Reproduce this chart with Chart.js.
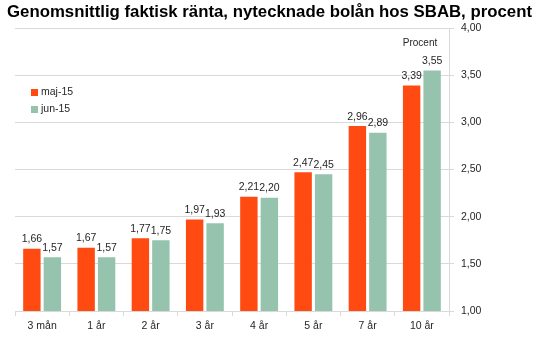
<!DOCTYPE html>
<html>
<head>
<meta charset="utf-8">
<script src="https://cdn.jsdelivr.net/npm/chart.js@4/dist/chart.umd.min.js"></script>
<style>
  html, body { margin: 0; padding: 0; background: #ffffff; }
  #wrap { position: relative; width: 543px; height: 355px; }
</style>
</head>
<body>
<div id="wrap"><canvas id="c" width="543" height="355"></canvas></div>
<script>
const chartTitle = "Genomsnittlig faktisk ränta, nytecknade bolån hos SBAB, procent";
const unitLabel = "Procent";
const categories = ["3 mån", "1 år", "2 år", "3 år", "4 år", "5 år", "7 år", "10 år"];
const seriesNames = ["maj-15", "jun-15"];
const maj15 = [1.66, 1.67, 1.77, 1.97, 2.21, 2.47, 2.96, 3.39];
const jun15 = [1.57, 1.57, 1.75, 1.93, 2.20, 2.45, 2.89, 3.55];
const yMin = 1.0, yMax = 4.0, yStep = 0.5;

const ORANGE = "#ff4a11";
const GREEN = "#95c3ae";
const GRID = "#d9d9d9";
const TEXT = "#262626";
const FONT = "'Liberation Sans', Arial, sans-serif";

const fmt = v => v.toFixed(2).replace(".", ",");

const extrasPlugin = {
  id: "extras",
  afterDatasetsDraw(chart) {
    const ctx = chart.ctx;
    ctx.save();
    // data labels
    ctx.font = "10.5px " + FONT;
    ctx.fillStyle = TEXT;
    ctx.textAlign = "center";
    ctx.textBaseline = "alphabetic";
    chart.data.datasets.forEach((ds, i) => {
      const meta = chart.getDatasetMeta(i);
      meta.data.forEach((bar, j) => {
        ctx.fillText(fmt(ds.data[j]), bar.x, bar.y - 6.5);
      });
    });
    // title
    ctx.font = "bold 16.8px " + FONT;
    ctx.fillStyle = "#000000";
    ctx.textAlign = "left";
    ctx.textBaseline = "middle";
    ctx.fillText(chartTitle, 7, 12.5);
    // unit label
    ctx.font = "10px " + FONT;
    ctx.fillStyle = TEXT;
    ctx.textAlign = "center";
    ctx.fillText(unitLabel, 420, 43);
    // legend
    const colors = [ORANGE, GREEN];
    seriesNames.forEach((name, i) => {
      const cy = 92.5 + i * 17;
      ctx.fillStyle = colors[i];
      ctx.fillRect(31, cy - 3.5, 7, 7);
      ctx.fillStyle = TEXT;
      ctx.textAlign = "left";
      ctx.textBaseline = "middle";
      ctx.font = "10.5px " + FONT;
      ctx.fillText(name, 41, cy);
    });
    ctx.restore();
  }
};

new Chart(document.getElementById("c"), {
  type: "bar",
  data: {
    labels: categories,
    datasets: [
      { label: seriesNames[0], data: maj15, backgroundColor: ORANGE, borderWidth: 0 },
      { label: seriesNames[1], data: jun15, backgroundColor: GREEN, borderWidth: 0 }
    ]
  },
  options: {
    responsive: false,
    animation: false,
    devicePixelRatio: 1,
    categoryPercentage: 0.755,
    barPercentage: 0.85,
    layout: { padding: { left: 15, right: 0, top: 28, bottom: 0 } },
    plugins: {
      legend: { display: false },
      title: { display: false },
      tooltip: { enabled: false }
    },
    scales: {
      x: {
        grid: {
          display: true,
          drawOnChartArea: false,
          offset: true,
          color: GRID,
          tickLength: 5
        },
        border: { display: true, color: GRID },
        ticks: {
          color: TEXT,
          font: { family: FONT, size: 10.5 },
          padding: 4,
          maxRotation: 0
        },
        afterFit(scale) { scale.height = 44; }
      },
      y: {
        position: "right",
        min: yMin,
        max: yMax,
        grid: { color: GRID, tickLength: 5 },
        border: { display: true, color: GRID },
        ticks: {
          stepSize: yStep,
          color: TEXT,
          font: { family: FONT, size: 10.5 },
          padding: 7,
          callback: v => fmt(v)
        },
        afterFit(scale) { scale.width = 94; }
      }
    }
  },
  plugins: [extrasPlugin]
});
</script>
</body>
</html>
